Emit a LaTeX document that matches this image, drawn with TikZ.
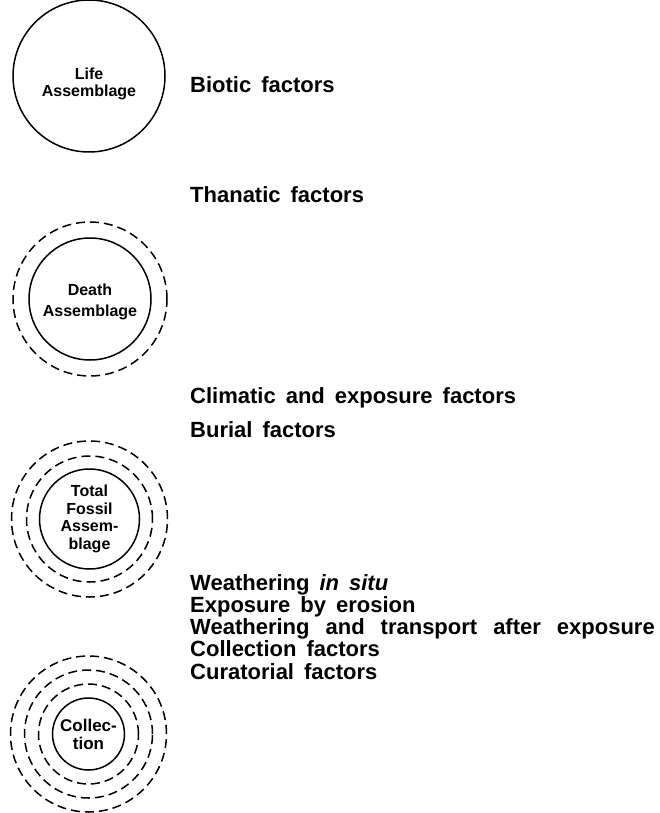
\documentclass[tikz,border=0pt]{standalone}
\usepackage{fontspec}
\setmainfont{Liberation Sans}
\newcommand\factorspace[1]{\spaceskip=#1\relax}
\begin{document}
\begin{tikzpicture}[x=1pt, y=-1pt,
	assemblage/.style={circle, draw, line width=1.5pt, inner sep=0pt},
	inscription/.style={align=center, inner sep=0pt, font=\bfseries\fontsize{16}{17.5}\selectfont},
	ring/.style={line width=1.5pt, dash pattern=on 9pt off 5pt},
	factor/.style={anchor=base west, inner sep=0pt, font=\bfseries\fontsize{22}{22}\selectfont, execute at begin node=\factorspace{10pt}}]
	\useasboundingbox (0,0) rectangle (660,813);
	% assemblages
	\node[assemblage, minimum size=152pt] (life) at (89,76) {};
	\node[inscription, yshift=-8pt] (lifetext) at (life.center) {Life\\Assemblage};
	\node[assemblage, minimum size=122pt] (death) at (90,299) {};
	\node[inscription, font=\bfseries\fontsize{16}{21}\selectfont, yshift=-3pt] (deathtext) at (death.center) {Death\\Assemblage};
	\draw[ring] (death.center) circle (77pt);
	\node[assemblage, minimum size=100pt] (fossil) at (89.5,519) {};
	\node[inscription] (fossiltext) at (fossil.center) {Total\\Fossil\\Assem-\\blage};
	\foreach \r in {63, 78}
		\draw[ring] (fossil.center) circle (\r pt);
	\node[assemblage, minimum size=72pt] (collection) at (88.5,734) {};
	\node[inscription, font=\bfseries\fontsize{17}{18}\selectfont] (collectiontext) at (collection.center) {Collec-\\tion};
	\foreach \r in {50, 64, 78}
		\draw[ring] (collection.center) circle (\r pt);
	% factors
	\node[factor] (biotic) at (190,93) {Biotic factors};
	\node[factor] (thanatic) at (190,202) {Thanatic factors};
	\node[factor] (climatic) at (190,403) {Climatic and exposure factors};
	\node[factor] (burial) at (190,437) {Burial factors};
	\node[factor] (insitu) at (190,590) {Weathering \textit{in situ}};
	\node[factor] (erosion) at (190,612) {Exposure by erosion};
	\node[factor, execute at begin node=\factorspace{16pt}] (transport) at (190,634) {Weathering and transport after exposure};
	\node[factor] (collecting) at (190,656) {Collection factors};
	\node[factor] (curatorial) at (190,679) {Curatorial factors};
\end{tikzpicture}
\end{document}
